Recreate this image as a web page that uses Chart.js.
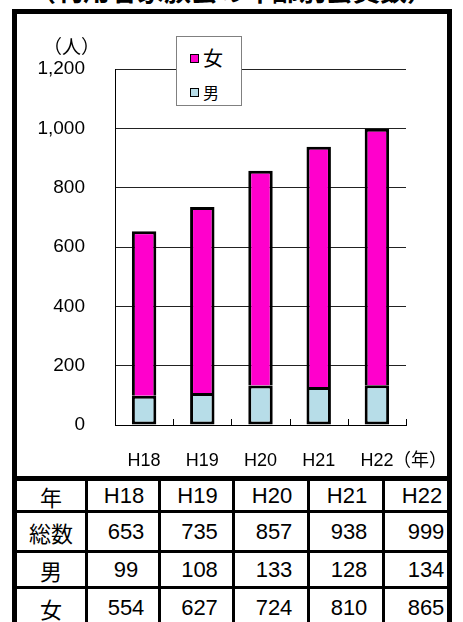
<!DOCTYPE html>
<html><head><meta charset="utf-8">
<script src="https://cdn.jsdelivr.net/npm/chart.js@4"></script>
<style>
html,body{margin:0;padding:0;background:#fff;}
body{width:463px;height:622px;position:relative;overflow:hidden;font-family:'Liberation Sans','Noto Sans CJK JP',sans-serif;color:#000;}
#title{position:absolute;left:0;top:-24px;width:463px;text-align:center;font:bold 27px/27px 'Noto Sans CJK JP',sans-serif;white-space:nowrap;}
#frame{position:absolute;left:12px;top:9px;width:430px;height:462px;border:5px solid #000;background:#fff;}
#frame canvas{position:absolute;left:0;top:0;}
#legend{position:absolute;left:159px;top:22px;width:64px;height:68px;border:1px solid #808080;background:#fff;}
.li{position:absolute;left:0;width:64px;display:flex;align-items:center;}
.sw{display:inline-block;width:7px;height:7px;border:1.5px solid #000;margin-left:13px;}
.lt{margin-left:4px;line-height:1;font-family:'Noto Sans CJK JP',sans-serif;}
#tbl{position:absolute;left:12px;top:476px;width:440px;height:160px;box-sizing:border-box;padding:5px;background:#000;display:grid;
  grid-template-columns:68px 70px 71px 72px 72px 62px;grid-template-rows:29px 37px 33px 37px;gap:3px;}
#tbl .cell{background:#fff;display:flex;align-items:center;justify-content:center;font-size:22px;line-height:22px;white-space:nowrap;overflow:hidden;}
#tbl .cell span{position:relative;}
#redge{position:absolute;left:447px;top:476px;width:5px;height:146px;background:#000;}
</style></head>
<body>
<div id="title">（利用者家族会の年齢別会員数）</div>
<div id="frame">
  <canvas id="c" width="430" height="462"></canvas>
  <div id="legend"></div>
</div>
<div id="tbl" role="table"></div>
<div id="redge"></div>
<script>
const categories = ['H18','H19','H20','H21','H22'];
const maleValues = [99,108,133,128,134];
const femaleValues = [554,627,724,810,865];
const totalValues = [653,735,857,938,999];
const yTickValues = [0,200,400,600,800,1000,1200];
const seriesNames = ['男','女'];
const rowLabels = ['年','総数','男','女'];
const yUnit = '（人）';
const xUnit = '（年）';

const FONT = "'Liberation Sans','Noto Sans CJK JP',sans-serif";

const unitPlugin = {
  id: 'units',
  afterDraw(chart) {
    const {ctx, chartArea: a, scales: {x}} = chart;
    ctx.save();
    ctx.strokeStyle = '#000';
    ctx.lineWidth = 1;
    const n = categories.length;
    for (let i = 0; i < n; i++) {
      const c = x.getPixelForValue(i);
      const nx = i < n - 1 ? x.getPixelForValue(i + 1) : 2 * c - x.getPixelForValue(i - 1);
      const bx = Math.round((c + nx) / 2) + 0.5;
      ctx.beginPath();
      ctx.moveTo(bx, a.bottom);
      ctx.lineTo(bx, a.bottom - 6);
      ctx.stroke();
    }
    ctx.fillStyle = '#000';
    ctx.textAlign = 'center';
    ctx.textBaseline = 'middle';
    ctx.font = '19px ' + FONT;
    ctx.fillText(yUnit, a.left - 43.5, a.top - 20.5);
    ctx.font = '18px ' + FONT;
    ctx.fillText(xUnit, a.right + 14, a.bottom + 36);
    ctx.restore();
  }
};

const chart = new Chart(document.getElementById('c'), {
  type: 'bar',
  data: {
    labels: categories,
    datasets: [
      {label: seriesNames[0], data: maleValues, backgroundColor: '#B7DDE8', borderColor: '#000', borderWidth: 3, borderSkipped: false},
      {label: seriesNames[1], data: femaleValues, backgroundColor: '#FF00CC', borderColor: '#000', borderWidth: 3, borderSkipped: 'bottom'}
    ]
  },
  options: {
    responsive: false,
    animation: false,
    locale: 'en-US',
    layout: {padding: {left: 0, right: 41, top: 55, bottom: 0}},
    datasets: {bar: {categoryPercentage: 1, barPercentage: 0.42}},
    plugins: {legend: {display: false}, tooltip: {enabled: false}, title: {display: false}},
    scales: {
      x: {
        stacked: true,
        grid: {display: false, drawTicks: false},
        border: {display: true, color: '#000', width: 1},
        ticks: {color: '#000', font: {family: FONT, size: 18}, padding: 25},
        afterFit(s) { s.height = 51; }
      },
      y: {
        stacked: true,
        min: yTickValues[0],
        max: yTickValues[yTickValues.length - 1],
        afterBuildTicks(s) { s.ticks = yTickValues.map(v => ({value: v})); },
        grid: {color: '#222', lineWidth: 1, drawTicks: false},
        border: {display: true, color: '#000', width: 1},
        ticks: {color: '#000', font: {family: FONT, size: 19}, padding: 30,
          callback: v => Number(v).toLocaleString('en-US')},
        afterFit(s) { s.width = 98; }
      }
    }
  },
  plugins: [unitPlugin]
});

// HTML legend from datasets (reverse order: 女 on top)
const legend = document.getElementById('legend');
const itemStyles = [{size: 20, center: 21}, {size: 16, center: 55}];
chart.data.datasets.slice().reverse().forEach((ds, i) => {
  const st = itemStyles[i];
  const it = document.createElement('div');
  it.className = 'li';
  it.style.top = (st.center - 12) + 'px';
  it.style.height = '24px';
  const sw = document.createElement('span');
  sw.className = 'sw';
  sw.style.background = ds.backgroundColor;
  const tx = document.createElement('span');
  tx.className = 'lt';
  tx.style.fontSize = st.size + 'px';
  tx.textContent = ds.label;
  it.appendChild(sw); it.appendChild(tx);
  legend.appendChild(it);
});

// data table (grid of cells)
const tbl = document.getElementById('tbl');
const rows = [categories, totalValues, maleValues, femaleValues];
rows.forEach((vals, r) => {
  const head = document.createElement('div');
  head.className = 'cell';
  head.style.fontFamily = "'Noto Sans CJK JP',sans-serif";
  head.textContent = rowLabels[r];
  tbl.appendChild(head);
  vals.forEach((v, c) => {
    const cell = document.createElement('div');
    cell.className = 'cell';
    const sp = document.createElement('span');
    const last = c === vals.length - 1;
    sp.style.left = (r === 0 ? (last ? 6 : 1) : (last ? 10 : 3)) + 'px';
    sp.textContent = String(v);
    cell.appendChild(sp);
    tbl.appendChild(cell);
  });
});
</script>
</body></html>
